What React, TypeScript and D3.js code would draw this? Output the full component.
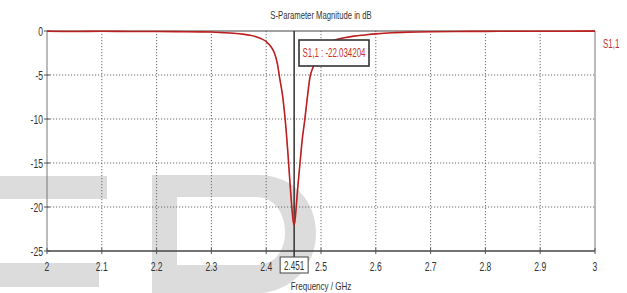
import React from "react";
import * as d3 from "d3";

const freq = [2.0, 2.05, 2.1, 2.15, 2.2, 2.25, 2.28, 2.3, 2.32, 2.34, 2.36, 2.37, 2.38, 2.39, 2.4, 2.41, 2.415, 2.42, 2.425, 2.43, 2.435, 2.44, 2.444, 2.447, 2.449, 2.451, 2.453, 2.455, 2.458, 2.462, 2.466, 2.47, 2.475, 2.48, 2.485, 2.49, 2.5, 2.51, 2.52, 2.53, 2.54, 2.56, 2.58, 2.6, 2.63, 2.66, 2.7, 2.75, 2.8, 2.85, 2.9, 2.95, 3.0];
const s11 = [-0.02, -0.05, -0.03, -0.06, -0.05, -0.08, -0.1, -0.12, -0.18, -0.25, -0.38, -0.48, -0.62, -0.85, -1.2, -1.9, -2.5, -3.6, -5.5, -7.4, -10.3, -14.2, -17.8, -20.2, -21.5, -22.034204, -21.3, -19.8, -17.5, -14.8, -12.2, -10.3, -7.6, -5.2, -4.2, -3.4, -2.3, -1.6, -1.2, -0.95, -0.8, -0.58, -0.45, -0.33, -0.2, -0.13, -0.08, -0.05, -0.04, -0.03, -0.02, -0.02, -0.01];

const xTicks = [2, 2.1, 2.2, 2.3, 2.4, 2.5, 2.6, 2.7, 2.8, 2.9, 3];
const yTicks = [0, -5, -10, -15, -20, -25];
const markerFreq = 2.451;
const markerValue = -22.034204;

const title = "S-Parameter Magnitude in dB";
const xTitle = "Frequency / GHz";
const seriesName = "S1,1";

const FONT = "Liberation Sans, Arial, sans-serif";

function T({ x, y, children, size = 12, sx = 0.68, anchor = "middle", fill = "#333", baseline = "auto" }: any) {
  return (
    <text
      transform={`translate(${x},${y}) scale(${sx},1)`}
      textAnchor={anchor}
      dominantBaseline={baseline}
      fontFamily={FONT}
      fontSize={size}
      fill={fill}
    >
      {children}
    </text>
  );
}

export default function App() {
  const W = 627, H = 293;
  const left = 47, right = 595, top = 31, bottom = 251;
  const x = d3.scaleLinear().domain([2, 3]).range([left, right]);
  const y = d3.scaleLinear().domain([0, -25]).range([top, bottom]);
  const line = d3.line<number>().x((_, i) => x(freq[i])).y((d) => y(d)).curve(d3.curveMonotoneX);
  const path = line(s11) || "";
  const mx = x(markerFreq);

  return (
    <svg width={W} height={H} style={{ position: "absolute", left: 0, top: 0, background: "#fff" }}>
      {/* watermark */}
      <g fill="#dcdcdc">
        <rect x={0} y={176} width={107} height={23} />
        <rect x={0} y={263} width={99} height={24} />
        <path
          fillRule="evenodd"
          d="M152,293 V175 H258 C294,175 316,202 316,233 C316,266 292,290 262,293 Z M177,197 H256 C274,197 285,213 285,232 C285,252 274,265 256,265 H177 Z"
        />
      </g>

      {/* grid */}
      <g stroke="#6a6a6a" strokeWidth={1} strokeDasharray="1.2,1.8">
        {xTicks.slice(1, -1).map((t) => (
          <line key={"gx" + t} x1={x(t)} x2={x(t)} y1={top} y2={bottom} />
        ))}
        {yTicks.slice(1, -1).map((t) => (
          <line key={"gy" + t} x1={left} x2={right} y1={y(t)} y2={y(t)} />
        ))}
      </g>

      {/* frame */}
      <line x1={left} x2={right} y1={top} y2={top} stroke="#444" strokeWidth={1.2} />
      <line x1={right} x2={right} y1={top} y2={bottom} stroke="#777" strokeWidth={1} />
      <line x1={left} x2={left} y1={top} y2={bottom} stroke="#777" strokeWidth={1} />
      <line x1={left} x2={right} y1={bottom} y2={bottom} stroke="#444" strokeWidth={1.4} />

      {/* ticks */}
      <g stroke="#555" strokeWidth={1}>
        {xTicks.map((t) => (
          <line key={"tx" + t} x1={x(t)} x2={x(t)} y1={bottom - 3} y2={bottom + 3} />
        ))}
        {yTicks.map((t) => (
          <line key={"ty" + t} x1={left - 3} x2={left + 3} y1={y(t)} y2={y(t)} />
        ))}
      </g>

      {/* tick labels */}
      {xTicks.map((t) => (
        <T key={"lx" + t} x={x(t)} y={271} size={13} sx={0.66}>
          {String(t)}
        </T>
      ))}
      {yTicks.map((t) => (
        <T key={"ly" + t} x={43} y={y(t) + 4.5} size={13} sx={0.66} anchor="end">
          {String(t)}
        </T>
      ))}

      {/* titles */}
      <T x={321} y={19} size={11} sx={0.7}>{title}</T>
      <T x={321} y={290} size={11} sx={0.73}>{xTitle}</T>

      {/* marker line */}
      <line x1={mx} x2={mx} y1={top} y2={257} stroke="#333" strokeWidth={1.5} />

      {/* curve */}
      <path d={path} fill="none" stroke="#d42a2a" strokeWidth={1.6} />
      <path d={path} fill="none" stroke="#7a1010" strokeWidth={0.7} strokeOpacity={0.55} />

      {/* marker box at axis */}
      <rect x={mx - 14} y={257} width={28} height={16} fill="#fff" stroke="#444" strokeWidth={1} />
      <T x={mx} y={270} size={13} sx={0.62}>{String(markerFreq)}</T>

      {/* annotation */}
      <rect x={299} y={40} width={70} height={26} fill="#fff" stroke="#333" strokeWidth={1.6} />
      <T x={334} y={57} size={12} sx={0.66} fill="#c8302c">
        {`${seriesName} : ${markerValue.toFixed(6)}`}
      </T>

      {/* legend */}
      <T x={603} y={48} size={12} sx={0.66} anchor="start" fill="#c8302c">{seriesName}</T>
    </svg>
  );
}
